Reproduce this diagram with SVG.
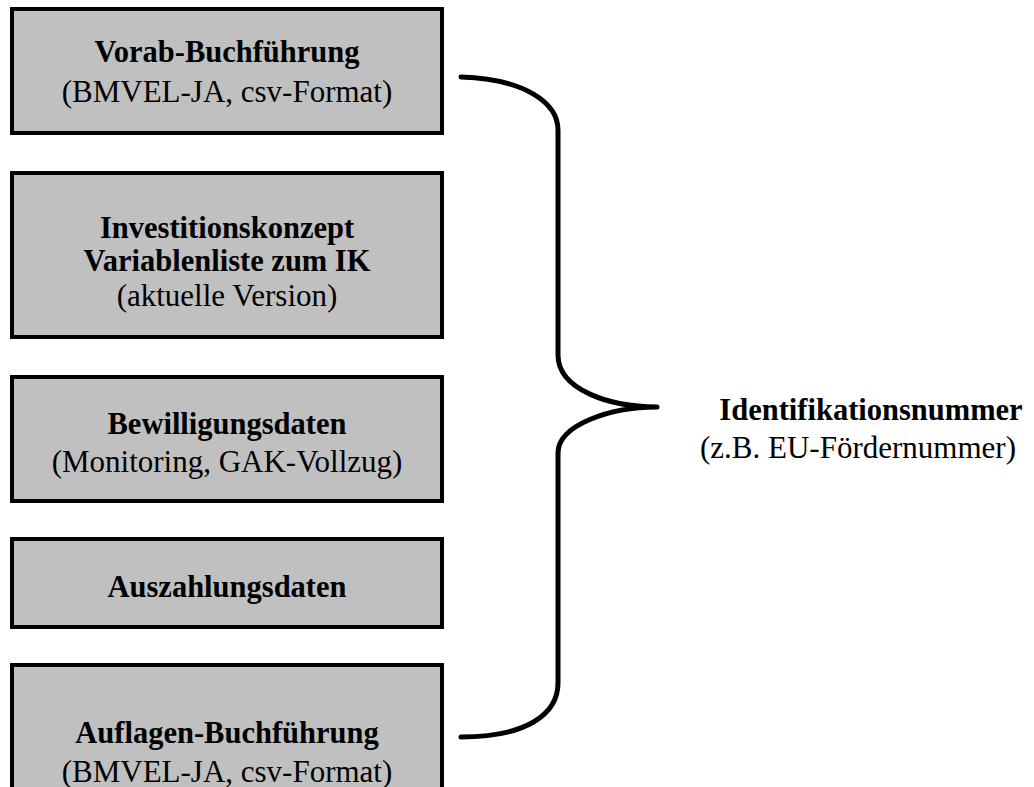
<svg xmlns="http://www.w3.org/2000/svg" width="1034" height="787" viewBox="0 0 1034 787">
<style>
.box{fill:#c0c0c0;stroke:#000;stroke-width:4}
.b{font-family:"Liberation Serif","Times New Roman",serif;font-weight:bold;font-size:30.5px;fill:#000;text-anchor:middle}
.r{font-family:"Liberation Serif","Times New Roman",serif;font-size:31px;fill:#000;text-anchor:middle}
.brace{fill:none;stroke:#000;stroke-width:5;stroke-linecap:round}
</style>
<rect width="1034" height="787" fill="#fff"/>
<g id="n1"><rect class="box" x="12" y="9" width="430" height="124"/>
<text class="b" x="227" y="62">Vorab-Buchführung</text>
<text class="r" x="227" y="102">(BMVEL-JA, csv-Format)</text></g>
<g id="n2"><rect class="box" x="12" y="173" width="430" height="164"/>
<text class="b" x="227" y="238">Investitionskonzept</text>
<text class="b" x="227" y="271">Variablenliste zum IK</text>
<text class="r" x="227" y="306">(aktuelle Version)</text></g>
<g id="n3"><rect class="box" x="12" y="377" width="430" height="124"/>
<text class="b" x="227" y="434">Bewilligungsdaten</text>
<text class="r" x="227" y="472">(Monitoring, GAK-Vollzug)</text></g>
<g id="n4"><rect class="box" x="12" y="539" width="430" height="88"/>
<text class="b" x="227" y="597">Auszahlungsdaten</text></g>
<g id="n5"><rect class="box" x="12" y="665" width="430" height="130"/>
<text class="b" x="227" y="743">Auflagen-Buchführung</text>
<text class="r" x="227" y="782">(BMVEL-JA, csv-Format)</text></g>
<g id="connectors">
<path class="brace" d="M461,77 C525,79 558,103 558,130 L558,355 C558,390 610,407 657,407 M657,407 C610,407 558,425 558,453 L558,683 C558,715 525,737 461,737"/>
</g>
<g id="n6">
<text class="b" x="871" y="420">Identifikationsnummer</text>
<text class="r" x="858" y="458">(z.B. EU-Fördernummer)</text></g>
</svg>
